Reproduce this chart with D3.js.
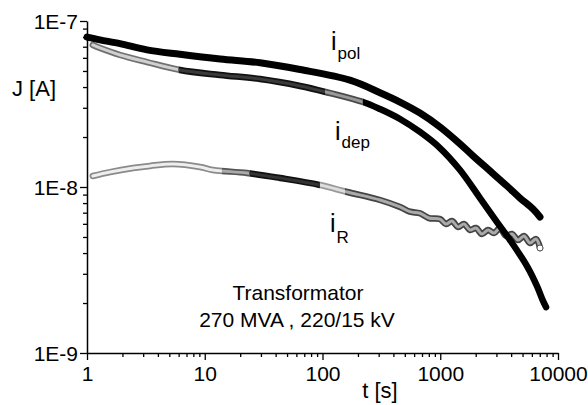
<!DOCTYPE html>
<html>
<head>
<meta charset="utf-8">
<script src="https://cdn.jsdelivr.net/npm/d3@7/dist/d3.min.js"></script>
<style>
  html, body { margin: 0; padding: 0; background: #fff; }
  svg { display: block; }
  text { font-family: "Liberation Sans", Arial, sans-serif; fill: #000; }
</style>
</head>
<body>
<svg id="chart" width="588" height="405"></svg>
<script>
// ---- data ----
const xTickValues = [1, 10, 100, 1000, 10000];
const xTickLabels = ["1", "10", "100", "1000", "10000"];
const yTickValues = [1e-9, 1e-8, 1e-7];
const yTickLabels = ["1E-9", "1E-8", "1E-7"];

const ipolT = [1, 1.29, 1.91, 3.23, 6.16, 13.5, 29.5, 64.4, 171, 308, 455, 673, 995, 1471, 1897, 2646, 3690, 4757, 6135, 7034];
const ipolJ = [8.0e-8, 7.7e-8, 7.3e-8, 6.7e-8, 6.3e-8, 5.9e-8, 5.6e-8, 5.1e-8, 4.4e-8, 3.7e-8, 3.25e-8, 2.79e-8, 2.3e-8, 1.82e-8, 1.54e-8, 1.25e-8, 1.014e-8, 8.58e-9, 7.37e-9, 6.6e-9];

const idepT = [1.12, 1.29, 1.91, 3.23, 6.16, 13.5, 29.5, 64.4, 116, 221, 308, 455, 673, 995, 1471, 2176, 3034, 3913, 5454, 6632, 7458, 7911];
const idepJ = [7.17e-8, 6.88e-8, 6.24e-8, 5.66e-8, 5.07e-8, 4.73e-8, 4.47e-8, 4.06e-8, 3.68e-8, 3.25e-8, 2.95e-8, 2.57e-8, 2.145e-8, 1.717e-8, 1.266e-8, 8.58e-9, 6.15e-9, 4.79e-9, 3.34e-9, 2.53e-9, 2.06e-9, 1.89e-9];

const iRT = [1.12, 1.57, 2.46, 3.43, 5.37, 9.11, 11.7, 22.8, 43.6, 95.2, 162, 308, 455, 552, 673, 800, 995, 1119, 1258, 1415, 1591, 1789, 2012, 2262, 2544, 2861, 3217, 3617, 4068, 4574, 5143, 5784, 6504, 7034];
const iRJ = [1.165e-8, 1.23e-8, 1.30e-8, 1.34e-8, 1.376e-8, 1.32e-8, 1.266e-8, 1.214e-8, 1.133e-8, 1.028e-8, 9.33e-9, 8.35e-9, 7.58e-9, 7.1e-9, 6.95e-9, 6.5e-9, 6.41e-9, 5.98e-9, 6.24e-9, 5.74e-9, 5.98e-9, 5.51e-9, 5.66e-9, 5.21e-9, 5.51e-9, 5.28e-9, 5.66e-9, 5.07e-9, 5.21e-9, 4.79e-9, 5.07e-9, 4.60e-9, 4.86e-9, 4.29e-9];

const seriesNames = ["pol", "dep", "R"];

// ---- styles (separate from data) ----
const styles = {
  pol: { width: 7, segs: [{ from: 1, to: 1e4, outer: "#000", inner: null }] },
  dep: { width: 6.5, segs: [
    { from: 1, to: 6, outer: "#707070", inner: "#d0d0d0" },
    { from: 6, to: 105, outer: "#111", inner: "#3a3a3a" },
    { from: 105, to: 220, outer: "#4a4a4a", inner: "#999" },
    { from: 220, to: 1e4, outer: "#000", inner: null }
  ]},
  R: { width: 6.5, segs: [
    { from: 1, to: 14, outer: "#8a8a8a", inner: "#eeeeee" },
    { from: 14, to: 24, outer: "#555", inner: "#aaa" },
    { from: 24, to: 95, outer: "#111", inner: "#333" },
    { from: 95, to: 155, outer: "#999", inner: "#dddddd" },
    { from: 155, to: 1e4, outer: "#444", inner: "#aaaaaa" }
  ]}
};

const svg = d3.select("#chart");
const x = d3.scaleLog().domain([1, 10000]).range([87, 558]);
const y = d3.scaleLog().domain([1e-9, 1e-7]).range([353, 21]);

function minors(lo, hi) {
  const out = [];
  for (let e = lo; e < hi; e++) for (let m = 2; m <= 9; m++) out.push(m * Math.pow(10, e));
  return out;
}

// axes
const gx = svg.append("g").attr("transform", "translate(0,353)");
gx.call(d3.axisBottom(x).tickValues(minors(0, 4)).tickSize(4).tickFormat(""));
gx.call(g => g.select(".domain").remove());
const gxM = svg.append("g").attr("transform", "translate(0,353)")
  .call(d3.axisBottom(x).tickValues(xTickValues).tickSize(7).tickSizeOuter(0)
    .tickFormat((d, i) => xTickLabels[i]));
gxM.selectAll("text").attr("font-size", 21).attr("dy", "0.95em").attr("y", 8);

const gy = svg.append("g").attr("transform", "translate(87,0)");
gy.call(d3.axisLeft(y).tickValues(minors(-9, -7)).tickSize(4).tickFormat(""));
gy.call(g => g.select(".domain").remove());
const gyM = svg.append("g").attr("transform", "translate(87,0)")
  .call(d3.axisLeft(y).tickValues(yTickValues).tickSize(7).tickSizeOuter(0)
    .tickFormat((d, i) => yTickLabels[i]));
gyM.selectAll("text").attr("font-size", 21).attr("x", -9).attr("dy", "0.36em");

svg.selectAll(".domain").attr("stroke", "#000").attr("stroke-width", 1.5);
svg.selectAll(".tick line").attr("stroke", "#000").attr("stroke-width", 1.3);

// axis titles
svg.append("text").attr("x", 12).attr("y", 96).attr("font-size", 22).text("J [A]");
svg.append("text").attr("x", 380).attr("y", 398).attr("font-size", 22).attr("text-anchor", "middle").text("t [s]");

// series
const data = {
  pol: ipolT.map((t, i) => ({ t, j: ipolJ[i] })),
  dep: idepT.map((t, i) => ({ t, j: idepJ[i] })),
  R: iRT.map((t, i) => ({ t, j: iRJ[i] }))
};
const line = d3.line().x(d => x(d.t)).y(d => y(d.j)).curve(d3.curveCatmullRom.alpha(0.5));
const defs = svg.append("defs");
const order = ["R", "dep", "pol"];
order.forEach(name => {
  const st = styles[name];
  st.segs.forEach((s, k) => {
    const id = "clip-" + name + "-" + k;
    const x0 = s.from <= 1 ? 0 : x(s.from);
    const x1 = s.to >= 1e4 ? 588 : x(s.to);
    defs.append("clipPath").attr("id", id).append("rect")
      .attr("x", x0).attr("y", 0).attr("width", x1 - x0).attr("height", 405);
    const g = svg.append("g").attr("clip-path", "url(#" + id + ")");
    g.append("path").datum(data[name]).attr("d", line)
      .attr("fill", "none").attr("stroke", s.outer).attr("stroke-width", st.width)
      .attr("stroke-linecap", "round").attr("stroke-linejoin", "round");
    if (s.inner) {
      g.append("path").datum(data[name]).attr("d", line)
        .attr("fill", "none").attr("stroke", s.inner).attr("stroke-width", st.width - 3.5)
        .attr("stroke-linecap", "round").attr("stroke-linejoin", "round");
    }
  });
});
// last open marker of iR
const lastR = data.R[data.R.length - 1];
svg.append("circle").attr("cx", x(lastR.t)).attr("cy", y(lastR.j)).attr("r", 3)
  .attr("fill", "#fff").attr("stroke", "#555").attr("stroke-width", 1);

// curve labels
function label(xp, yp, sub, dy) {
  const t = svg.append("text").attr("x", xp).attr("y", yp).attr("font-size", 25);
  t.append("tspan").text("i");
  t.append("tspan").attr("font-size", 17).attr("dx", 1).attr("dy", dy).text(sub);
}
label(331, 50, seriesNames[0], 9);
label(335, 140, seriesNames[1], 8);
label(330, 232, seriesNames[2], 11);

// annotation
svg.append("text").attr("x", 298).attr("y", 300).attr("font-size", 21).attr("text-anchor", "middle").text("Transformator");
svg.append("text").attr("x", 297).attr("y", 327).attr("font-size", 21).attr("text-anchor", "middle").text("270 MVA , 220/15 kV");
</script>
</body>
</html>
